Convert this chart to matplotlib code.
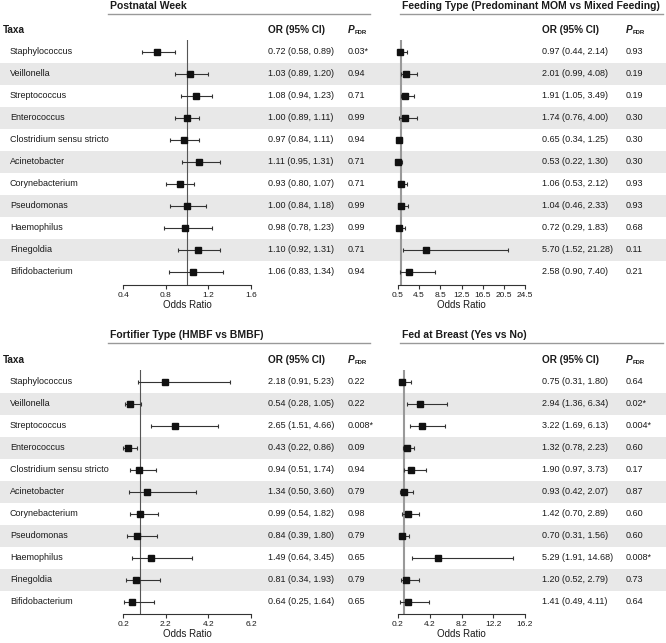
import matplotlib
matplotlib.use('Agg')
import matplotlib.pyplot as plt

plt.rcParams['font.family'] = ['Liberation Sans', 'DejaVu Sans']

# data
taxa = ['Staphylococcus', 'Veillonella', 'Streptococcus', 'Enterococcus',
        'Clostridium sensu stricto', 'Acinetobacter', 'Corynebacterium',
        'Pseudomonas', 'Haemophilus', 'Finegoldia', 'Bifidobacterium']

week_or = [0.72, 1.03, 1.08, 1.00, 0.97, 1.11, 0.93, 1.00, 0.98, 1.10, 1.06]
week_lo = [0.58, 0.89, 0.94, 0.89, 0.84, 0.95, 0.80, 0.84, 0.78, 0.92, 0.83]
week_hi = [0.89, 1.20, 1.23, 1.11, 1.11, 1.31, 1.07, 1.18, 1.23, 1.31, 1.34]
week_p = [0.03, 0.94, 0.71, 0.99, 0.94, 0.71, 0.71, 0.99, 0.99, 0.71, 0.94]
week_ticks = [0.4, 0.8, 1.2, 1.6]

feed_or = [0.97, 2.01, 1.91, 1.74, 0.65, 0.53, 1.06, 1.04, 0.72, 5.70, 2.58]
feed_lo = [0.44, 0.99, 1.05, 0.76, 0.34, 0.22, 0.53, 0.46, 0.29, 1.52, 0.90]
feed_hi = [2.14, 4.08, 3.49, 4.00, 1.25, 1.30, 2.12, 2.33, 1.83, 21.28, 7.40]
feed_p = [0.93, 0.19, 0.19, 0.30, 0.30, 0.30, 0.93, 0.93, 0.68, 0.11, 0.21]
feed_ticks = [0.5, 4.5, 8.5, 12.5, 16.5, 20.5, 24.5]

fort_or = [2.18, 0.54, 2.65, 0.43, 0.94, 1.34, 0.99, 0.84, 1.49, 0.81, 0.64]
fort_lo = [0.91, 0.28, 1.51, 0.22, 0.51, 0.50, 0.54, 0.39, 0.64, 0.34, 0.25]
fort_hi = [5.23, 1.05, 4.66, 0.86, 1.74, 3.60, 1.82, 1.80, 3.45, 1.93, 1.64]
fort_p = [0.22, 0.22, 0.008, 0.09, 0.94, 0.79, 0.98, 0.79, 0.65, 0.79, 0.65]
fort_ticks = [0.2, 2.2, 4.2, 6.2]

breast_or = [0.75, 2.94, 3.22, 1.32, 1.90, 0.93, 1.42, 0.70, 5.29, 1.20, 1.41]
breast_lo = [0.31, 1.36, 1.69, 0.78, 0.97, 0.42, 0.70, 0.31, 1.91, 0.52, 0.49]
breast_hi = [1.80, 6.34, 6.13, 2.23, 3.73, 2.07, 2.89, 1.56, 14.68, 2.79, 4.11]
breast_p = [0.64, 0.02, 0.004, 0.60, 0.17, 0.87, 0.60, 0.60, 0.008, 0.73, 0.64]
breast_ticks = [0.2, 4.2, 8.2, 12.2, 16.2]

titles = ['Postnatal Week', 'Feeding Type (Predominant MOM vs Mixed Feeding)',
          'Fortifier Type (HMBF vs BMBF)', 'Fed at Breast (Yes vs No)']


def fmt_p(p):
    s = f'{p:.3f}' if p < 0.01 else f'{p:.2f}'
    return s + '*' if p < 0.05 else s


W, H = 666, 643
STEP = 22.0
TXT = '#1a1a1a'

fig = plt.figure(figsize=(W / 100, H / 100), dpi=100)

# background axes in pixel coordinates for shading and table text
bg = fig.add_axes([0, 0, 1, 1])
bg.set_xlim(0, W)
bg.set_ylim(H, 0)
bg.axis('off')

# (row1_y, title_y, header_y, ref_top, axis_y) for top and bottom blocks
blocks = [(52, 6, 30, 40, 285), (382, 335, 360, 370, 614)]
# (forest x0, x1, OR text x, P x, title line x0, x1)
cols = [(123, 251, 268, 348, 108, 370), (398, 525, 542, 626, 400, 663)]
refstyle = [('#555555', 0.8), ('#999999', 1.5)]

panels = [
    (0, 0, week_or, week_lo, week_hi, week_p, week_ticks),
    (0, 1, feed_or, feed_lo, feed_hi, feed_p, feed_ticks),
    (1, 0, fort_or, fort_lo, fort_hi, fort_p, fort_ticks),
    (1, 1, breast_or, breast_lo, breast_hi, breast_p, breast_ticks),
]

for b, (row1, ty, hy, rtop, ay) in enumerate(blocks):
    for i in range(1, len(taxa), 2):
        yc = row1 + i * STEP
        bg.axhspan(yc - STEP / 2, yc + STEP / 2, color='#e8e8e8', lw=0, zorder=0)
    bg.text(3, hy, 'Taxa', fontsize=7.2, fontweight='bold', va='center', color=TXT)
    for i, t in enumerate(taxa):
        bg.text(10, row1 + i * STEP, t, fontsize=6.5, va='center', color=TXT)

for k, (b, c, orv, lo, hi, pv, ticks) in enumerate(panels):
    row1, ty, hy, rtop, ay = blocks[b]
    fx0, fx1, orx, px, lx0, lx1 = cols[c]

    # panel title with underline
    bg.text(lx0 + 2, ty, titles[k], fontsize=7.5, fontweight='bold', va='center', color=TXT)
    bg.plot([lx0, lx1], [ty + 8, ty + 8], color='#999999', lw=1)

    # column headers
    bg.text(orx, hy, 'OR (95% CI)', fontsize=7.2, fontweight='bold', va='center', color=TXT)
    bg.text(px, hy, 'P', fontsize=7.2, fontweight='bold', style='italic', va='center', color=TXT)
    bg.text(px + 6.5, hy + 2.5, 'FDR', fontsize=4.3, fontweight='bold', va='center', color=TXT)

    for i in range(len(taxa)):
        yc = row1 + i * STEP
        bg.text(orx, yc, f'{orv[i]:.2f} ({lo[i]:.2f}, {hi[i]:.2f})', fontsize=6.5, va='center', color=TXT)
        bg.text(px, yc, fmt_p(pv[i]), fontsize=6.5, va='center', color=TXT)

    # forest plot axes
    ax = fig.add_axes([fx0 / W, 1 - ay / H, (fx1 - fx0) / W, (ay - rtop) / H])
    ax.patch.set_alpha(0)
    ys = list(range(len(taxa)))
    ax.set_ylim((ay - row1) / STEP, (rtop - row1) / STEP)
    ax.set_xlim(ticks[0], ticks[-1])
    rc, rw = refstyle[c]
    ax.axvline(1, color=rc, lw=rw, zorder=1)
    xerr = [[o - l for o, l in zip(orv, lo)], [h - o for o, h in zip(orv, hi)]]
    ax.errorbar(orv, ys, xerr=xerr, fmt='s', color='#111111', ecolor='#333333',
                elinewidth=0.8, capsize=1.5, capthick=0.8, markersize=5,
                clip_on=False, zorder=3)
    for s in ['top', 'right', 'left']:
        ax.spines[s].set_visible(False)
    ax.spines['bottom'].set_color('#333333')
    ax.spines['bottom'].set_linewidth(0.8)
    ax.set_yticks([])
    ax.set_xticks(ticks)
    ax.set_xticklabels([f'{t:.1f}' for t in ticks])
    ax.tick_params(axis='x', direction='out', length=3, width=0.8, color='#333333',
                   labelsize=6, pad=2, labelcolor=TXT)
    ax.set_xlabel('Odds Ratio', fontsize=7, labelpad=1, color=TXT)

fig.savefig('out.png', dpi=100)
